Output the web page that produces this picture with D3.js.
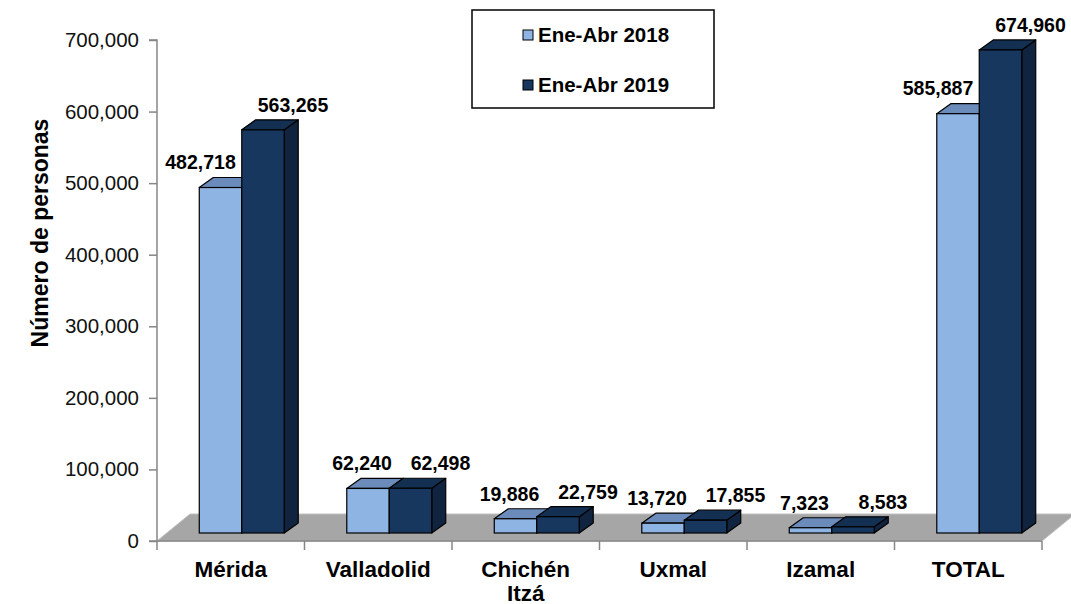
<html>

<head>
    <meta charset="utf-8">
    <title>Número de personas</title>
    <script src="https://d3js.org/d3.v7.min.js"></script>
    <style>
        body {
            margin: 0;
            background: #fff;
        }

        svg {
            font-family: "Liberation Sans", Arial, sans-serif;
        }

        .axisGrey path,
        .axisGrey line {
            stroke: #868686;
            stroke-width: 1.5px;
        }

        .yaxis text {
            font-size: 20.5px;
            fill: #111;
        }

        .cat-text {
            font-size: 22.5px;
            font-weight: bold;
            fill: #000;
        }

        .value-text {
            font-size: 19.5px;
            font-weight: bold;
            fill: #000;
        }

        .title-text {
            font-size: 23px;
            font-weight: bold;
            fill: #000;
        }

        .legend-text {
            font-size: 20.5px;
            font-weight: bold;
            fill: #000;
        }
    </style>
</head>

<body>
    <div id="chart"></div>
    <script>
        // data
        var categories = ["Mérida", "Valladolid", "Chichén Itzá", "Uxmal", "Izamal", "TOTAL"];
        var ene2018 = [482718, 62240, 19886, 13720, 7323, 585887];
        var ene2019 = [563265, 62498, 22759, 17855, 8583, 674960];
        var seriesNames = ["Ene-Abr 2018", "Ene-Abr 2019"];
        var yTicks = [0, 100000, 200000, 300000, 400000, 500000, 600000, 700000];

        var width = 1071;
        var height = 604;

        // plot box (front plane)
        var plotLeft = 157, plotRight = 1042, plotTop = 40, plotBottom = 541;

        // 3D look: floor depth, bar position inside floor, bar depth
        var floorDx = 33, floorDy = -27;
        var barOffX = 11, barOffY = -8;
        var depthX = 14, depthY = -10;

        var colors = [
            { front: "#8db4e2", top: "#6b8cba", side: "#4f6f99" },
            { front: "#17375e", top: "#132f52", side: "#10243f" }
        ];

        var series = [ene2018, ene2019];

        /* Scale */
        var xScale = d3.scaleBand()
            .domain(categories)
            .range([plotLeft, plotRight]);

        var yScale = d3.scaleLinear()
            .domain([0, 700000])
            .range([plotBottom, plotTop]);

        var barW = xScale.bandwidth() * 0.288;

        var svg = d3.select("#chart").append("svg")
            .attr("width", width)
            .attr("height", height);

        /* floor */
        svg.append("path")
            .attr("d", "M" + plotLeft + "," + plotBottom +
                "L" + plotRight + "," + plotBottom +
                "L" + (plotRight + floorDx) + "," + (plotBottom + floorDy) +
                "L" + (plotLeft + floorDx) + "," + (plotBottom + floorDy) + "Z")
            .attr("fill", "#a6a6a6")
            .attr("stroke", "#bfbfbf")
            .attr("stroke-width", 1);

        /* Axis */
        var yAxis = d3.axisLeft(yScale)
            .tickValues(yTicks)
            .tickFormat(d3.format(","))
            .tickSize(8)
            .tickPadding(10);

        svg.append("g")
            .attr("class", "yaxis axisGrey")
            .attr("transform", "translate(" + plotLeft + ",0)")
            .call(yAxis)
            .call(g => g.select(".domain").attr("d", "M-8," + plotTop + "H0V" + plotBottom + "H-8"));

        var xAxis = svg.append("g")
            .attr("class", "xaxis axisGrey");

        xAxis.append("line")
            .attr("x1", plotLeft).attr("x2", plotRight)
            .attr("y1", plotBottom).attr("y2", plotBottom);

        xAxis.selectAll(".cat-tick")
            .data(categories.concat(["__end"]))
            .enter().append("line")
            .attr("class", "cat-tick")
            .attr("x1", (d, i) => i < categories.length ? xScale(d) : plotRight)
            .attr("x2", (d, i) => i < categories.length ? xScale(d) : plotRight)
            .attr("y1", plotBottom)
            .attr("y2", plotBottom + 9);

        /* category labels, long ones wrap */
        var catText = svg.selectAll(".cat-text")
            .data(categories).enter()
            .append("text")
            .attr("class", "cat-text")
            .attr("text-anchor", "middle")
            .attr("x", d => xScale(d) + xScale.bandwidth() / 2)
            .attr("y", 577);

        catText.each(function(d) {
            var words = d.split(" ");
            var t = d3.select(this);
            if (words.length > 1 && d.length > 10) {
                words.forEach(function(w, i) {
                    t.append("tspan")
                        .attr("x", t.attr("x"))
                        .attr("dy", i === 0 ? 0 : 24)
                        .text(w);
                });
            } else {
                t.text(d);
            }
        });

        /* bars */
        function barCenter(c) {
            return xScale(c) + xScale.bandwidth() / 2 + barOffX;
        }

        var bars = svg.append("g").attr("class", "bars");

        categories.forEach(function(c, ci) {
            series.forEach(function(values, si) {
                var x0 = barCenter(c) - barW + si * barW;
                var x1 = x0 + barW;
                var y0 = yScale(0) + barOffY;
                var y1 = yScale(values[ci]) + barOffY;
                var col = colors[si];
                var g = bars.append("g");

                // side
                g.append("path")
                    .attr("d", "M" + x1 + "," + y0 + "L" + x1 + "," + y1 +
                        "L" + (x1 + depthX) + "," + (y1 + depthY) +
                        "L" + (x1 + depthX) + "," + (y0 + depthY) + "Z")
                    .attr("fill", col.side)
                    .attr("stroke", "#000")
                    .attr("stroke-width", 1.2)
                    .attr("stroke-linejoin", "round");

                // top
                g.append("path")
                    .attr("d", "M" + x0 + "," + y1 + "L" + x1 + "," + y1 +
                        "L" + (x1 + depthX) + "," + (y1 + depthY) +
                        "L" + (x0 + depthX) + "," + (y1 + depthY) + "Z")
                    .attr("fill", col.top)
                    .attr("stroke", "#000")
                    .attr("stroke-width", 1.2)
                    .attr("stroke-linejoin", "round");

                // front
                g.append("rect")
                    .attr("x", x0)
                    .attr("y", y1)
                    .attr("width", barW)
                    .attr("height", y0 - y1)
                    .attr("fill", col.front)
                    .attr("stroke", "#000")
                    .attr("stroke-width", 1.2);
            });
        });

        /* value labels: 2018 sits left, 2019 right; 2018 moves left if it would hit the taller 2019 bar */
        var labelDx = [-6, 30];
        var labelDy = -25;
        series.forEach(function(values, si) {
            svg.selectAll(".value-" + si)
                .data(values).enter()
                .append("text")
                .attr("class", "value-text value-" + si)
                .attr("text-anchor", "middle")
                .attr("x", (d, i) => barCenter(categories[i]) - barW / 2 + si * barW + labelDx[si])
                .attr("y", d => yScale(d) + barOffY + labelDy)
                .attr("dy", "0.35em")
                .text(d => d3.format(",")(d))
                .each(function(d, i) {
                    if (si !== 0) return;
                    var w = this.getComputedTextLength();
                    var cx = +this.getAttribute("x");
                    var darkLeft = barCenter(categories[i]);
                    var darkTop = yScale(series[1][i]) + barOffY + depthY;
                    var labelBottom = yScale(d) + barOffY + labelDy + 10;
                    if (labelBottom > darkTop && cx + w / 2 > darkLeft - 6) {
                        this.setAttribute("x", darkLeft - 6 - w / 2);
                    }
                });
        });

        /* y title */
        svg.append("text")
            .attr("class", "title-text")
            .attr("text-anchor", "middle")
            .attr("transform", "translate(48,233) rotate(-90)")
            .text("Número de personas");

        /* legend */
        var legend = svg.append("g").attr("class", "legend");

        legend.append("rect")
            .attr("x", 472).attr("y", 10)
            .attr("width", 242).attr("height", 98)
            .attr("fill", "#fff")
            .attr("stroke", "#000")
            .attr("stroke-width", 1.5);

        var items = legend.selectAll(".item")
            .data(seriesNames).enter()
            .append("g")
            .attr("class", "item")
            .attr("transform", (d, i) => "translate(523," + (30 + i * 50) + ")");

        items.append("rect")
            .attr("width", 10).attr("height", 10)
            .attr("fill", (d, i) => colors[i].front)
            .attr("stroke", "#000")
            .attr("stroke-width", 1);

        items.append("text")
            .attr("class", "legend-text")
            .attr("x", 15)
            .attr("y", 12)
            .text(d => d);
    </script>
</body>

</html>
